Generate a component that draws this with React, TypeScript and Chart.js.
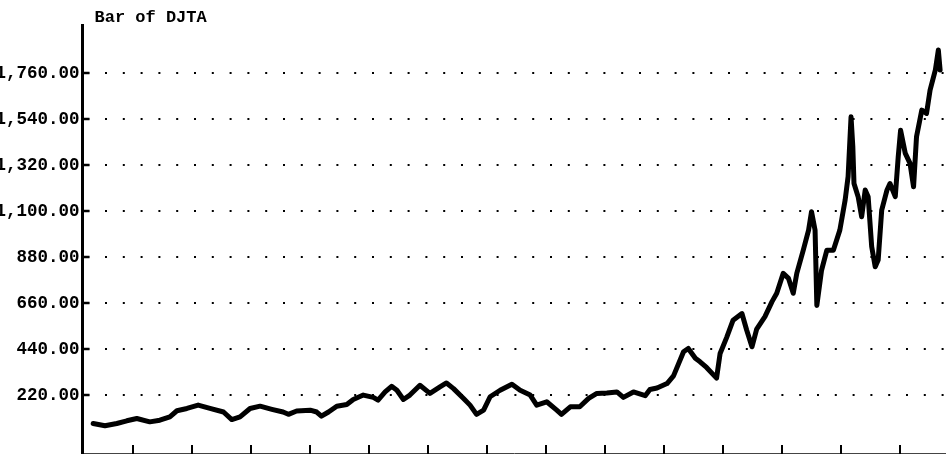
import React, { useEffect, useRef } from "react";
import { Chart, registerables } from "chart.js";

Chart.register(...registerables);

const chartTitle = "Bar of DJTA";

// x positions in tick units (tick k at value k)
const periods = [
  -0.68, -0.48, -0.28, -0.11, 0.06, 0.28, 0.45, 0.62, 0.74, 0.91,
  1.10, 1.30, 1.53, 1.67, 1.81, 1.98, 2.15, 2.35, 2.54, 2.63,
  2.77, 3.00, 3.11, 3.19, 3.31, 3.45, 3.62, 3.73, 3.90, 4.07,
  4.15, 4.27, 4.38, 4.47, 4.58, 4.69, 4.86, 5.03, 5.20, 5.31,
  5.43, 5.60, 5.71, 5.82, 5.94, 6.05, 6.22, 6.42, 6.56, 6.73,
  6.84, 7.01, 7.18, 7.26, 7.41, 7.57, 7.72, 7.86, 8.03, 8.20,
  8.31, 8.48, 8.68, 8.76, 8.88, 9.05, 9.16, 9.33, 9.41, 9.53,
  9.61, 9.72, 9.89, 9.95, 10.06, 10.17, 10.32, 10.40, 10.49, 10.57,
  10.71, 10.83, 10.91, 11.02, 11.11, 11.19, 11.25, 11.36, 11.45, 11.50,
  11.56, 11.59, 11.67, 11.76, 11.87, 11.98, 12.07, 12.12, 12.17, 12.20,
  12.22, 12.29, 12.35, 12.41, 12.46, 12.52, 12.58, 12.63, 12.69, 12.78,
  12.83, 12.92, 12.97, 13.01, 13.09, 13.17, 13.23, 13.28, 13.37, 13.45,
  13.51, 13.60, 13.65, 13.68,
];

const djta = [
  85, 74, 85, 98, 109, 93, 101, 117, 146, 157,
  173, 157, 140, 104, 117, 157, 168, 153, 140, 129,
  145, 149, 140, 120, 140, 168, 176, 200, 221, 210,
  197, 236, 263, 244, 200, 221, 268, 229, 260, 279,
  252, 205, 173, 129, 149, 213, 244, 273, 244, 221,
  173, 189, 149, 129, 165, 165, 205, 229, 231, 236,
  210, 236, 218, 248, 255, 276, 313, 428, 444, 397,
  380, 353, 302, 420, 496, 579, 611, 532, 452, 536,
  596, 668, 708, 803, 779, 708, 803, 914, 1010, 1098,
  1010, 650, 818, 914, 914, 1010, 1154, 1266, 1552, 1409,
  1233, 1170, 1074, 1202, 1170, 931, 835, 867, 1106, 1202,
  1233, 1170, 1361, 1488, 1377, 1329, 1217, 1456, 1584, 1568,
  1680, 1776, 1871, 1776,
];

const xTickValues = [0, 1, 2, 3, 4, 5, 6, 7, 8, 9, 10, 11, 12, 13];
const yTickValues = [220, 440, 660, 880, 1100, 1320, 1540, 1760];

const FONT_FAMILY = '"Liberation Mono", "DejaVu Sans Mono", monospace';

function formatLabel(v: number): string {
  return Number(v).toLocaleString("en-US", {
    minimumFractionDigits: 2,
    maximumFractionDigits: 2,
  });
}

const decorations = {
  id: "decorations",
  afterDraw(chart: any) {
    const { ctx, chartArea, scales } = chart;
    ctx.save();
    ctx.fillStyle = "#000";
    ctx.font = `bold 17px ${FONT_FAMILY}`;
    ctx.textBaseline = "alphabetic";
    ctx.textAlign = "left";
    ctx.fillText(chartTitle, chartArea.left + 12, 22);

    ctx.strokeStyle = "#000";
    ctx.lineWidth = 2.5;
    for (const v of yTickValues) {
      const y = Math.round(scales.y.getPixelForValue(v));
      ctx.beginPath();
      ctx.moveTo(chartArea.left, y);
      ctx.lineTo(chartArea.left + 7, y);
      ctx.stroke();
    }
    ctx.lineWidth = 2;
    for (const t of xTickValues) {
      const x = Math.round(scales.x.getPixelForValue(t));
      ctx.beginPath();
      ctx.moveTo(x, chartArea.bottom + 2);
      ctx.lineTo(x, chartArea.bottom - 8);
      ctx.stroke();
    }
    ctx.restore();
  },
};

export default function App() {
  const canvasRef = useRef<HTMLCanvasElement | null>(null);

  useEffect(() => {
    const canvas = canvasRef.current;
    if (!canvas) return;
    const chart = new Chart(canvas, {
      type: "line",
      data: {
        datasets: [
          {
            label: "DJTA",
            data: periods.map((t, i) => ({ x: t, y: djta[i] })),
            borderColor: "#000",
            borderWidth: 5,
            borderJoinStyle: "round",
            borderCapStyle: "round",
            pointRadius: 0,
            tension: 0,
            fill: false,
          },
        ],
      },
      options: {
        animation: false,
        responsive: false,
        devicePixelRatio: 1,
        layout: { padding: { top: 25, left: 0, right: 0, bottom: 0 } },
        plugins: {
          legend: { display: false },
          title: { display: false },
          tooltip: { enabled: false },
        },
        scales: {
          x: {
            type: "linear",
            min: -0.861,
            max: 13.78,
            grid: { display: false, drawTicks: false },
            border: { display: true, color: "#444", width: 1 },
            ticks: { display: false },
            afterBuildTicks: (scale: any) => {
              scale.ticks = xTickValues.map((value) => ({ value }));
            },
            afterFit: (scale: any) => {
              scale.height = 1;
              scale.paddingLeft = 0;
              scale.paddingRight = 0;
            },
          },
          y: {
            type: "linear",
            min: -56,
            max: 1991,
            grid: {
              color: "#000",
              lineWidth: 2,
              drawTicks: false,
            },
            border: {
              display: true,
              color: "#000",
              width: 3,
              dash: [2, 15.8],
              dashOffset: 14.6,
            },
            ticks: {
              color: "#000",
              padding: 3,
              font: { family: FONT_FAMILY, size: 17.5, weight: "bold" },
              callback: (v: any) => formatLabel(Number(v)),
            },
            afterBuildTicks: (scale: any) => {
              scale.ticks = yTickValues.map((value) => ({ value }));
            },
            afterFit: (scale: any) => {
              scale.width = 82.5;
              scale.paddingTop = 0;
              scale.paddingBottom = 0;
            },
          },
        },
      },
      plugins: [decorations],
    });
    return () => chart.destroy();
  }, []);

  return (
    <div style={{ position: "fixed", left: 0, top: 0, width: 946, height: 454, background: "#fff" }}>
      <canvas ref={canvasRef} width={946} height={454} style={{ display: "block" }} />
    </div>
  );
}
